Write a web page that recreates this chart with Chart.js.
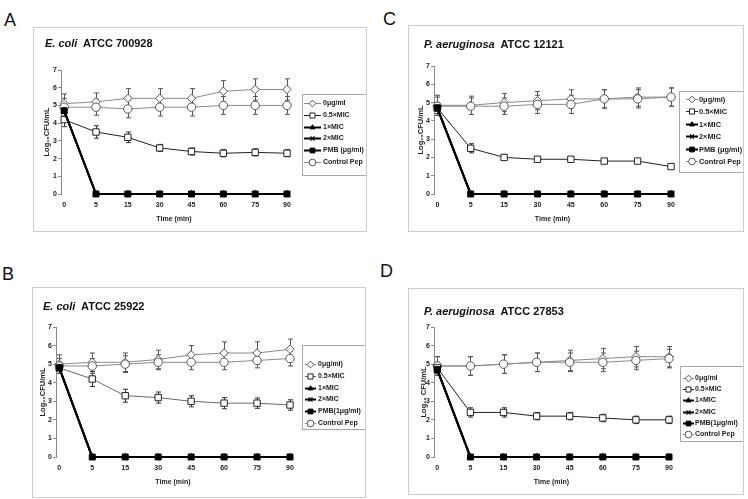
<!DOCTYPE html>
<html>
<head>
<meta charset="utf-8">
<script src="https://cdn.jsdelivr.net/npm/chart.js@4"></script>
<style>
body { margin:0; background:#fff; width:748px; height:499px; position:relative; overflow:hidden;
       font-family:"Liberation Sans", Arial, sans-serif; }
.panel { position:absolute; border:1px solid #cdcdcd; box-sizing:border-box; }
.panel canvas { position:absolute; left:0; top:0; }
.letter { position:absolute; font-size:18px; color:#111; line-height:1; }
.ttl { position:absolute; font-size:11px; font-weight:bold; color:#111; white-space:nowrap; line-height:1; }
</style>
</head>
<body>
<div class="letter" style="left:4px;top:11px">A</div>
<div class="letter" style="left:2px;top:265px">B</div>
<div class="letter" style="left:383px;top:10px">C</div>
<div class="letter" style="left:380px;top:262px">D</div>

<div class="panel" id="pA" style="left:33px;top:27px;width:334px;height:205px"><canvas id="cA"></canvas></div>
<div class="panel" id="pB" style="left:32px;top:287px;width:334px;height:211px"><canvas id="cB"></canvas></div>
<div class="panel" id="pC" style="left:408px;top:25px;width:336px;height:207px"><canvas id="cC"></canvas></div>
<div class="panel" id="pD" style="left:408px;top:288px;width:336px;height:207px"><canvas id="cD"></canvas></div>

<div class="ttl" style="left:45px;top:38px"><i>E. coli</i>&nbsp; ATCC 700928</div>
<div class="ttl" style="left:43px;top:301px"><i>E. coli</i>&nbsp; ATCC 25922</div>
<div class="ttl" style="left:424px;top:39px"><i>P. aeruginosa</i>&nbsp; ATCC 12121</div>
<div class="ttl" style="left:424px;top:306px"><i>P. aeruginosa</i>&nbsp; ATCC 27853</div>

<script>
const times = ['0', '5', '15', '30', '45', '60', '75', '90'];

const legendA = ['0μg/ml', '0.5×MIC', '1×MIC', '2×MIC', 'PMB (μg/ml)', 'Control Pep'];
const legendB = ['0μg/ml)', '0.5×MIC', '1×MIC', '2×MIC', 'PMB(1μg/ml)', 'Control Pep'];
const legendC = ['0μg/ml)', '0.5×MIC', '1×MIC', '2×MIC', 'PMB (μg/ml)', 'Control Pep'];
const legendD = ['0μg/ml', '0.5×MIC', '1×MIC', '2×MIC', 'PMB(1μg/ml)', 'Control Pep'];

// A: E. coli ATCC 700928
const aZero = [5.1, 5.2, 5.4, 5.4, 5.4, 5.8, 5.9, 5.9];
const aZeroErr = [0.55, 0.5, 0.55, 0.55, 0.55, 0.6, 0.6, 0.6];
const aHalf = [4.2, 3.5, 3.2, 2.6, 2.4, 2.3, 2.35, 2.3];
const aHalfErr = [0.4, 0.35, 0.3, 0.2, 0.2, 0.2, 0.2, 0.2];
const aOne = [4.7, 0, 0, 0, 0, 0, 0, 0];
const aTwo = [4.7, 0, 0, 0, 0, 0, 0, 0];
const aPmb = [4.7, 0, 0, 0, 0, 0, 0, 0];
const aCtrl = [4.9, 4.9, 4.8, 4.9, 4.9, 5.0, 5.0, 5.0];
const aCtrlErr = [0.5, 0.45, 0.5, 0.5, 0.5, 0.5, 0.5, 0.5];

// B: E. coli ATCC 25922
const bZero = [5.0, 5.1, 5.1, 5.25, 5.5, 5.6, 5.6, 5.8];
const bZeroErr = [0.5, 0.5, 0.5, 0.5, 0.5, 0.6, 0.6, 0.55];
const bHalf = [4.8, 4.2, 3.3, 3.2, 3.0, 2.9, 2.9, 2.8];
const bHalfErr = [0.3, 0.4, 0.35, 0.3, 0.3, 0.3, 0.28, 0.28];
const bOne = [4.8, 0, 0, 0, 0, 0, 0, 0];
const bTwo = [4.8, 0, 0, 0, 0, 0, 0, 0];
const bPmb = [4.8, 0, 0, 0, 0, 0, 0, 0];
const bCtrl = [4.9, 4.9, 5.0, 5.1, 5.1, 5.1, 5.2, 5.3];
const bCtrlErr = [0.4, 0.4, 0.45, 0.4, 0.4, 0.4, 0.4, 0.4];

// C: P. aeruginosa ATCC 12121
const cZero = [4.85, 4.85, 5.0, 5.1, 5.2, 5.2, 5.3, 5.3];
const cZeroErr = [0.55, 0.5, 0.5, 0.5, 0.5, 0.5, 0.5, 0.5];
const cHalf = [4.7, 2.5, 2.0, 1.9, 1.9, 1.8, 1.8, 1.5];
const cHalfErr = [0.3, 0.25, 0.15, 0.15, 0.15, 0.1, 0.1, 0.1];
const cOne = [4.7, 0, 0, 0, 0, 0, 0, 0];
const cTwo = [4.7, 0, 0, 0, 0, 0, 0, 0];
const cPmb = [4.7, 0, 0, 0, 0, 0, 0, 0];
const cCtrl = [4.8, 4.8, 4.8, 4.9, 4.9, 5.2, 5.2, 5.3];
const cCtrlErr = [0.5, 0.45, 0.45, 0.5, 0.5, 0.5, 0.5, 0.5];

// D: P. aeruginosa ATCC 27853
const dZero = [4.9, 4.9, 5.0, 5.1, 5.2, 5.3, 5.4, 5.4];
const dZeroErr = [0.5, 0.5, 0.5, 0.5, 0.55, 0.55, 0.55, 0.55];
const dHalf = [4.8, 2.4, 2.4, 2.2, 2.2, 2.1, 2.0, 2.0];
const dHalfErr = [0.3, 0.25, 0.25, 0.2, 0.2, 0.2, 0.2, 0.2];
const dOne = [4.7, 0, 0, 0, 0, 0, 0, 0];
const dTwo = [4.7, 0, 0, 0, 0, 0, 0, 0];
const dPmb = [4.7, 0, 0, 0, 0, 0, 0, 0];
const dCtrl = [4.9, 4.9, 5.0, 5.1, 5.1, 5.1, 5.2, 5.3];
const dCtrlErr = [0.5, 0.5, 0.5, 0.5, 0.5, 0.5, 0.5, 0.5];

const FONT = 'Liberation Sans, Arial, sans-serif';

// marker / line look of the six series, in legend order
const looks = [
    { pointStyle: 'rectRot', radius: 4.2, line: '#8a8a8a', lw: 1, fill: '#fff', edge: '#555', order: 6, bar: '#555' },
    { pointStyle: 'rect', radius: 4.5, line: '#222', lw: 1, fill: '#fff', edge: '#222', order: 4, bar: '#333' },
    { pointStyle: 'triangle', radius: 3.5, line: '#000', lw: 2, fill: '#000', edge: '#000', order: 2 },
    { pointStyle: 'crossRot', radius: 3.5, line: '#000', lw: 2, fill: '#000', edge: '#000', order: 3 },
    { pointStyle: 'rect', radius: 4.2, line: '#000', lw: 2, fill: '#000', edge: '#000', order: 1 },
    { pointStyle: 'circle', radius: 4.2, line: '#8a8a8a', lw: 1, fill: '#fff', edge: '#555', order: 5, bar: '#555' },
];

const errorBars = {
    id: 'errorBars',
    beforeDatasetsDraw(chart) {
        const { ctx } = chart;
        const xs = chart.scales.x, ys = chart.scales.y;
        ctx.save();
        chart.data.datasets.forEach(ds => {
            if (!ds.errors) return;
            ctx.strokeStyle = ds.barColor;
            ctx.lineWidth = 1;
            ds.errors.forEach((e, j) => {
                const v = ds.data[j].y;
                const px = Math.round(xs.getPixelForValue(j)) + 0.5;
                const t = ys.getPixelForValue(v + e), b = ys.getPixelForValue(v - e);
                ctx.beginPath();
                ctx.moveTo(px, t); ctx.lineTo(px, b);
                ctx.moveTo(px - 2.5, t); ctx.lineTo(px + 2.5, t);
                ctx.moveTo(px - 2.5, b); ctx.lineTo(px + 2.5, b);
                ctx.stroke();
            });
        });
        ctx.restore();
    }
};

// framed legend: line - marker - line sample, then the label
const boxLegend = {
    id: 'boxLegend',
    afterDraw(chart, args, opts) {
        const { ctx } = chart;
        const [l, t, r, b] = opts.box;
        const [s0, s1, tx] = opts.sample;
        const [first, last] = opts.rows;
        ctx.save();
        ctx.strokeStyle = '#a8a8a8';
        ctx.lineWidth = 1;
        ctx.strokeRect(l + 0.5, t + 0.5, r - l - 1, b - t - 1);
        const step = (last - first) / 5;
        ctx.font = 'bold ' + opts.size + 'px ' + FONT;
        ctx.textBaseline = 'middle';
        chart.data.datasets.forEach((ds, i) => {
            const lk = looks[i];
            const y = Math.round(first + i * step) + 0.5;
            ctx.strokeStyle = ds.borderColor;
            ctx.lineWidth = lk.lw;
            ctx.beginPath();
            ctx.moveTo(l + s0, y); ctx.lineTo(l + s1, y);
            ctx.stroke();
            ctx.fillStyle = lk.fill;
            ctx.strokeStyle = lk.edge;
            ctx.lineWidth = lk.pointStyle === 'crossRot' ? 1.2 : 1;
            Chart.helpers.drawPoint(ctx, { pointStyle: lk.pointStyle, radius: lk.radius * 0.8, borderWidth: 1, rotation: 0 }, l + (s0 + s1) / 2, y);
            ctx.fillStyle = '#1a1a1a';
            ctx.fillText(ds.label, l + tx, y);
        });
        ctx.restore();
    }
};

function makePanel(canvasId, box, plot, legend, rows, sample, legendSize, yTitle, yTitleX, names, series, errs, halfLine) {
    const ox = box[0] + 1, oy = box[1] + 1;
    const w = box[2] - 2, h = box[3] - 2;
    const canvas = document.getElementById(canvasId);
    canvas.width = w; canvas.height = h;
    canvas.style.width = w + 'px'; canvas.style.height = h + 'px';

    const left = plot[0] - ox, top = plot[1] - oy, right = plot[2] - ox, bottom = plot[3] - oy;

    const datasets = series.map((vals, i) => {
        const lk = looks[i];
        return {
            label: names[i],
            data: vals.map((v, j) => ({ x: j, y: v })),
            borderColor: i === 1 && halfLine ? halfLine : lk.line,
            borderWidth: lk.lw,
            pointStyle: lk.pointStyle,
            pointRadius: lk.radius,
            pointBackgroundColor: lk.fill,
            pointBorderColor: lk.edge,
            pointBorderWidth: lk.pointStyle === 'crossRot' ? 1.2 : 1,
            tension: 0,
            clip: false,
            order: lk.order,
            errors: errs[i] || null,
            barColor: lk.bar,
        };
    });

    const tickFont = { family: FONT, size: 7, weight: 'bold' };

    return new Chart(canvas, {
        type: 'line',
        data: { datasets },
        options: {
            responsive: false,
            animation: false,
            devicePixelRatio: 1,
            layout: { padding: { left: 0, top: top, right: w - right, bottom: 0 } },
            plugins: {
                legend: { display: false },
                tooltip: { enabled: false },
                boxLegend: {
                    box: [legend[0] - ox, legend[1] - oy, legend[2] - ox, legend[3] - oy],
                    rows: [rows[0] - oy, rows[1] - oy],
                    sample: sample,
                    size: legendSize,
                },
            },
            scales: {
                x: {
                    type: 'linear',
                    min: -0.1,
                    max: 7,
                    afterBuildTicks: s => { s.ticks = times.map((_, i) => ({ value: i })); },
                    afterFit: s => { s.height = h - bottom; },
                    ticks: { callback: v => times[v], font: tickFont, color: '#222', padding: 7, autoSkip: false, maxRotation: 0 },
                    grid: { display: false, drawTicks: false },
                    border: { display: false },
                    title: {
                        display: true, text: 'Time (min)', color: '#222',
                        font: { family: FONT, size: 7, weight: 'bold' },
                        padding: { top: 0, bottom: (h - bottom) - 25 - 4.2 },
                    },
                },
                y: {
                    min: 0,
                    max: 7,
                    afterFit: s => { s.width = left; },
                    ticks: { stepSize: 1, font: tickFont, color: '#222', padding: 1 },
                    grid: { drawOnChartArea: false, drawTicks: true, tickLength: 3, color: '#8a8a8a' },
                    border: { color: '#8a8a8a', width: 1 },
                    title: {
                        display: true, text: yTitle, color: '#222',
                        font: { family: FONT, size: 7.5, weight: 'bold' },
                        padding: { top: (yTitleX - ox) - 4.5, bottom: 0 },
                    },
                },
            },
        },
        plugins: [errorBars, boxLegend],
    });
}

makePanel('cA', [33, 27, 334, 205], [61, 70, 287, 194], [302, 94, 367, 176], [103, 162], [2, 19, 21], 7,
    'Log₁₀CFU/mL', 47, legendA,
    [aZero, aHalf, aOne, aTwo, aPmb, aCtrl], [aZeroErr, aHalfErr, null, null, null, aCtrlErr]);

makePanel('cB', [32, 287, 334, 211], [56, 327, 290, 457], [302, 345, 366, 430], [364, 423], [3, 14, 16], 7,
    'Log₁₀CFU/mL', 43, legendB,
    [bZero, bHalf, bOne, bTwo, bPmb, bCtrl], [bZeroErr, bHalfErr, null, null, null, bCtrlErr], '#6a6a6a');

makePanel('cC', [408, 25, 336, 207], [434, 66, 671, 194], [679, 91, 744, 173], [99, 161], [7, 19, 20], 7.4,
    'Log₁₀CFU/mL', 421, legendC,
    [cZero, cHalf, cOne, cTwo, cPmb, cCtrl], [cZeroErr, cHalfErr, null, null, null, cCtrlErr]);

makePanel('cD', [408, 288, 336, 207], [434, 327, 669, 457], [680, 366, 744, 442], [378, 434], [3, 14, 15], 7,
    'Log₁₀ CFU/mL', 424, legendD,
    [dZero, dHalf, dOne, dTwo, dPmb, dCtrl], [dZeroErr, dHalfErr, null, null, null, dCtrlErr]);
</script>
</body>
</html>
